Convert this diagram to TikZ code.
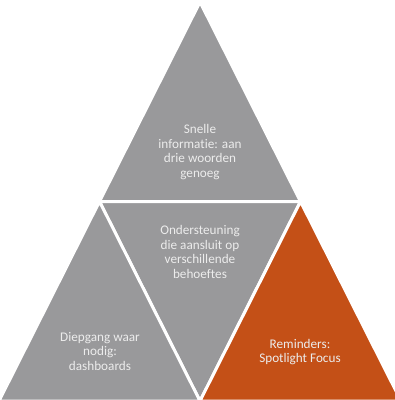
\documentclass[tikz,border=0pt]{standalone}
\usepackage{fontspec}
\setmainfont{Carlito}[Ligatures=NoCommon]
\definecolor{triGray}{RGB}{153,153,155}
\definecolor{triOrange}{RGB}{196,80,23}
\definecolor{txtLight}{RGB}{236,236,236}
\begin{document}
\begin{tikzpicture}[x=1pt,y=-1pt,
  tri/.style={draw=white,line width=3pt,line join=miter},
  lbl/.style={text=txtLight,align=center,font=\fontsize{13.2pt}{14.4pt}\selectfont,inner sep=0pt}]
\useasboundingbox (0,0) rectangle (395,400);
\coordinate (A) at (200,2);
\coordinate (L) at (-1,401);
\coordinate (R) at (401,401);
\coordinate (ML) at (99.5,201.5);
\coordinate (MR) at (300.5,201.5);
\coordinate (MB) at (200,401);
\fill[triGray] (A) -- (ML) -- (MR) -- cycle;
\draw[tri] (A) -- (ML) -- (MR) -- cycle;
\fill[triGray] (ML) -- (MR) -- (MB) -- cycle;
\draw[tri] (ML) -- (MR) -- (MB) -- cycle;
\fill[triGray] (ML) -- (L) -- (MB) -- cycle;
\draw[tri] (ML) -- (L) -- (MB) -- cycle;
\fill[triOrange] (MR) -- (MB) -- (R) -- cycle;
\draw[tri] (MR) -- (MB) -- (R) -- cycle;
\node[lbl] (top) at (200,152) {Snelle\\informatie: aan\\drie woorden\\genoeg};
\node[lbl] (mid) at (200,252) {Ondersteuning\\die aansluit op\\verschillende\\behoeftes};
\node[lbl] (left) at (100,351.5) {Diepgang waar\\nodig:\\dashboards};
\node[lbl] (right) at (300,352) {Reminders:\\Spotlight Focus};
\end{tikzpicture}
\end{document}
